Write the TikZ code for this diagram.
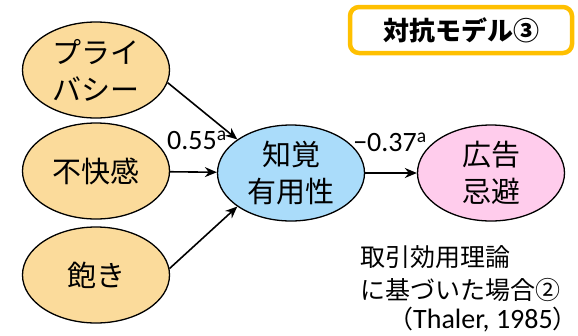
\documentclass[tikz,border=0pt]{standalone}
\usepackage{fontspec}
\setmainfont{Carlito}
\newfontfamily\cjk{Noto Sans CJK JP}
\usetikzlibrary{shapes.geometric,arrows.meta}
\definecolor{orfill}{RGB}{251,219,155}
\definecolor{blfill}{RGB}{170,220,250}
\definecolor{pkfill}{RGB}{255,204,236}
\definecolor{titleor}{RGB}{255,192,0}
\tikzset{
  oval/.style={ellipse, draw=black, line width=1.3pt, minimum width=147pt, minimum height=96pt, inner sep=0pt, align=center, font=\cjk\fontsize{29}{37}\selectfont},
  arr/.style={-{Stealth[length=12pt,width=10pt]}, line width=1.6pt},
  lbl/.style={inner sep=0pt, font=\fontsize{28}{32}\selectfont},
  note/.style={inner sep=0pt, anchor=west, font=\cjk\fontsize{25}{30}\selectfont}
}
\begin{document}
\begin{tikzpicture}[x=1pt,y=-1pt]
\useasboundingbox (0,0) rectangle (578,335);
\node[oval, fill=orfill] (p) at (96,70) {プライ\\バシー};
\node[oval, fill=orfill] (f) at (96,171) {不快感};
\node[oval, fill=orfill] (s) at (96,275) {飽き};
\node[oval, fill=blfill] (k) at (291,173) {知覚\\有用性};
\node[oval, fill=pkfill] (a) at (491,173) {広告\\忌避};
\draw[arr] (p.-10) -- (k.148);
\draw[arr] (f) -- (k);
\draw[arr] (s.5) -- (k.-148);
\draw[arr] (k) -- (a);
\node[lbl] (l1) at (197,140) {0.55\textsuperscript{a}};
\node[lbl] (l2) at (390,142) {\textminus0.37\textsuperscript{a}};
\node[draw=titleor, line width=4.5pt, rounded corners=9pt, minimum width=222pt, minimum height=46pt, inner sep=0pt, font=\cjk\bfseries\fontsize{26}{30}\selectfont] (t) at (461,30) {対抗モデル③};
\node[note] (n1) at (360,257) {取引効用理論};
\node[note] (n2) at (360,290) {に基づいた場合②};
\node[note, font=\fontsize{28}{32}\selectfont] (n3) at (388,320) {{\cjk\fontsize{25}{30}\selectfont （}Thaler, 1985{\cjk\fontsize{25}{30}\selectfont ）}};
\end{tikzpicture}
\end{document}
